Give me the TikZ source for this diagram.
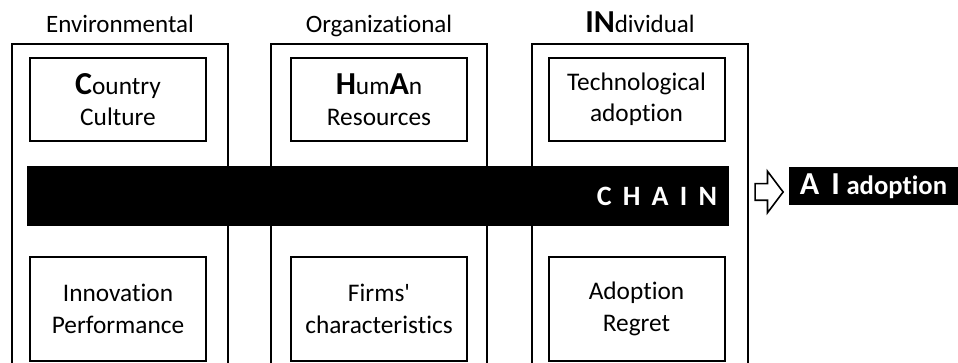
\documentclass[tikz,border=0pt]{standalone}
\usepackage{fontspec}
\setmainfont{Carlito}[Ligatures=NoCommon]
\usetikzlibrary{shapes.arrows}

\def\pix{0.75pt}
\tikzstyle{title} = [font=\fontsize{18.75}{22}\selectfont, inner sep=0pt, anchor=base]
\tikzstyle{frame} = [
  draw,
  line width=1.5pt,
  anchor=north,
  minimum width=216*\pix,
  minimum height=345*\pix,
]
\tikzstyle{factor} = [
  draw,
  line width=1.5pt,
  align=center,
  minimum width=176*\pix,
  minimum height=83*\pix,
  font=\fontsize{19}{23.5}\selectfont,
]
\tikzstyle{chainbar} = [
  fill=black,
  text=white,
  minimum width=702*\pix,
  minimum height=60*\pix,
  inner xsep=9pt,
  text width=702*\pix-18pt,
  align=right,
  font=\fontsize{21}{21}\selectfont\bfseries\addfontfeature{LetterSpace=40},
]
\tikzstyle{aibox} = [
  fill=black,
  text=white,
  minimum width=169*\pix,
  minimum height=38*\pix,
  font=\bfseries,
]
\tikzstyle{blockarrow} = [
  single arrow,
  draw,
  line width=1.2pt,
  inner sep=0pt,
  text height=7.5*\pix,
  text depth=7.5*\pix,
  minimum height=28*\pix,
  single arrow head extend=12.5*\pix,
  single arrow tip angle=106,
]
\newcommand{\initial}[1]{{\fontsize{24}{22}\selectfont\bfseries #1}}

\begin{document}
\begin{tikzpicture}[x=\pix, y=-\pix]
            \clip (0,0) rectangle (958,363);

            % Levels
            \node[title] (envt) at (120,33) {Environmental};
            \node[title] (orgt) at (379,33) {Organizational};
            \node[title] (indt) at (640,33) {\initial{IN}dividual};

            \node[frame] (env) at (120,43) {};
            \node[frame] (org) at (379,43) {};
            \node[frame] (ind) at (640,43) {};

            % Upper factors
            \node[factor] (cc) at (118,99.5) {\initial{C}ountry\\Culture};
            \node[factor] (hr) at (379,99.5) {\initial{H}um\initial{A}n\\Resources};
            \node[factor] (ta) at (636.5,99.5) {Technological\\adoption};

            % Lower factors
            \node[factor, minimum height=104*\pix] (ip) at (118,309) {Innovation\\Performance};
            \node[factor, minimum height=104*\pix] (fc) at (379,309) {Firms\textquotesingle\\characteristics};
            \node[factor, minimum height=104*\pix] (ar) at (636.5,309) {Adoption\\Regret};

            % Chain bar over the frames
            \node[chainbar] (chain) at (378,196) {CHAIN};

            % Outcome
            \node[blockarrow] (arr) at (766,192) {};
            \node[aibox] (ai) at (873.5,186)
              {{\fontsize{24}{24}\selectfont A\hspace{9pt}I}\hspace{5pt}{\fontsize{20}{20}\selectfont adoption}};
          \end{tikzpicture}
\end{document}
